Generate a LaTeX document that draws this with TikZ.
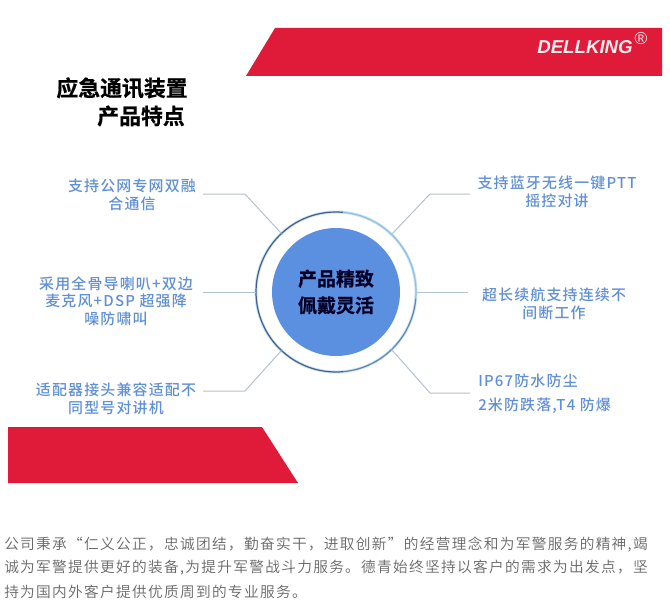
\documentclass[tikz,border=0pt]{standalone}
\usepackage{fontspec}
\setmainfont{Liberation Sans}
\newfontfamily\cjkbold[FakeBold=0.6]{Noto Sans CJK SC Bold}
\newfontfamily\cjklabel[LetterSpace=8]{Noto Sans CJK SC Medium}
\newfontfamily\cjkbody[LetterSpace=9]{Noto Sans CJK SC DemiLight}
\definecolor{bandred}{HTML}{E01B3A}
\definecolor{labelblue}{HTML}{5F8FD6}
\definecolor{hubblue}{HTML}{5B8FDF}
\definecolor{ringdark}{HTML}{3F5F88}
\definecolor{ringlight}{HTML}{8FC0E4}
\definecolor{wirecol}{HTML}{B4C2CF}
\definecolor{bodygray}{HTML}{666666}
\tikzset{
labeltext/.style={align=center,text=labelblue,font=\cjklabel\fontsize{11.2pt}{13.3pt}\selectfont,inner sep=0pt},
labelleft/.style={align=left,text=labelblue,font=\cjklabel\fontsize{11.2pt}{18pt}\selectfont,inner sep=0pt},
wire/.style={draw=wirecol,line width=0.75pt},
titletext/.style={inner sep=0pt,font=\cjkbold\fontsize{16.4pt}{20pt}\selectfont},
bodyline/.style={anchor=west,text=bodygray,inner sep=0pt,font=\cjkbody\fontsize{11pt}{12pt}\selectfont}
}
\begin{document}
\begin{tikzpicture}[x=0.75pt,y=-0.75pt]
\useasboundingbox (0,0) rectangle (670,606);
% bands
\fill[bandred] (275,28) -- (662,28) -- (662,76) -- (246,76) -- cycle;
\fill[bandred] (8,427) -- (262,427) -- (298,483) -- (8,483) -- cycle;
\node[text=white!92!bandred,inner sep=0pt,font=\bfseries\itshape\fontsize{14pt}{16pt}\selectfont] (brand) at (585,47) {DELLKING};
\node[text=white!92!bandred,inner sep=0pt,font=\fontsize{13pt}{14pt}\selectfont] (regmark) at (641,39) {®};
% title
\node[titletext] (titleA) at (122,88) {应急通讯装置};
\node[titletext] (titleB) at (141,116) {产品特点};
% hub
\node[circle,draw=ringlight!45,line width=2.2pt,fill=white,minimum size=120pt,inner sep=0pt,outer sep=0pt] (ring) at (336,292) {};
\node[circle,fill=hubblue,text=black!85!blue,minimum size=96pt,inner sep=0pt,align=center,font=\cjkbold\fontsize{14.2pt}{20pt}\selectfont] (hub) at (336,292) {产品精致\\佩戴灵活};
\draw[ringdark,line width=0.9pt] (ring.85) arc[start angle=85,end angle=275,radius=60pt];
\draw[ringlight,line width=0.9pt] (ring.85) arc[start angle=85,end angle=-5,radius=60pt];
\draw[ringdark!60!ringlight,line width=0.9pt] (ring.-5) arc[start angle=-5,end angle=-85,radius=60pt];
% labels
\node[labeltext] (labelA) at (132,195) {支持公网专网双融\\合通信};
\node[labeltext] (labelB) at (116,301) {采用全骨导喇叭+双边\\麦克风+DSP 超强降\\噪防啸叫};
\node[labeltext] (labelC) at (116,399) {适配器接头兼容适配不\\同型号对讲机};
\node[labeltext] (labelD) at (557,192) {支持蓝牙无线一键PTT\\摇控对讲};
\node[labeltext] (labelE) at (554,304) {超长续航支持连续不\\间断工作};
\node[labelleft,anchor=west] (labelF) at (478,394) {IP67防水防尘\\2米防跌落,T4 防爆};
% wires
\coordinate (endA) at (203,194); \coordinate (kneeA) at (245,194);
\coordinate (endB) at (203,292);
\coordinate (endC) at (203,391); \coordinate (kneeC) at (245,391);
\coordinate (endD) at (470,194); \coordinate (kneeD) at (430,194);
\coordinate (endE) at (468,292);
\coordinate (endF) at (470,393); \coordinate (kneeF) at (430,393);
\draw[wire] (endA) -- (kneeA) -- (ring.133);
\draw[wire] (endB) -- (ring.180);
\draw[wire] (endC) -- (kneeC) -- (ring.227);
\draw[wire] (endD) -- (kneeD) -- (ring.46);
\draw[wire] (endE) -- (ring.0);
\draw[wire] (endF) -- (kneeF) -- (ring.-46);
% body text
\node[bodyline] (bodyA) at (4,545) {公司秉承“仁义公正，忠诚团结，勤奋实干，进取创新”的经营理念和为军警服务的精神,竭};
\node[bodyline] (bodyB) at (4,568) {诚为军警提供更好的装备,为提升军警战斗力服务。德青始终坚持以客户的需求为出发点，坚};
\node[bodyline] (bodyC) at (4,592) {持为国内外客户提供优质周到的专业服务。};
\end{tikzpicture}
\end{document}
